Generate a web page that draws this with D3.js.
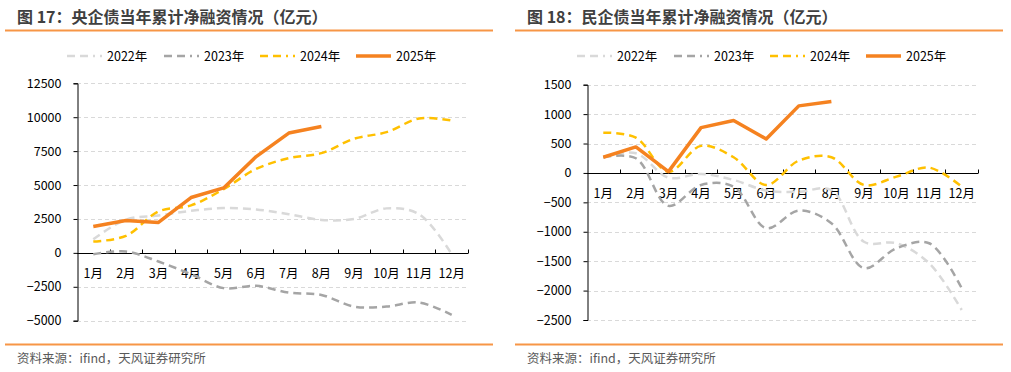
<!DOCTYPE html>
<html>
<head>
<meta charset="utf-8">
<script src="https://cdn.jsdelivr.net/npm/d3@7"></script>
<style>
  body { margin: 0; background: #fff; }
  svg { font-family: "Noto Sans CJK SC", "Noto Sans", sans-serif; }
</style>
</head>
<body>
<div id="chart"></div>
<script>
// categories
const months = ["1月","2月","3月","4月","5月","6月","7月","8月","9月","10月","11月","12月"];
const years = ["2022年","2023年","2024年","2025年"];

// 央企债 (left)
const soe2022 = [1000, 2450, 2750, 3100, 3300, 3200, 2850, 2430, 2500, 3280, 2850, -100];
const soe2023 = [-100, 100, -640, -1570, -2600, -2430, -2930, -3100, -3960, -3960, -3660, -4570];
const soe2024 = [830, 1250, 3050, 3500, 4700, 6190, 6980, 7350, 8410, 8900, 9900, 9760];
const soe2025 = [1940, 2380, 2240, 4080, 4790, 7100, 8830, 9310];
const soeTicks = [-5000, -2500, 0, 2500, 5000, 7500, 10000, 12500];

// 民企债 (right)
const pri2022 = [270, 335, -80, -17, -120, -300, -320, -290, -1170, -1195, -1535, -2330];
const pri2023 = [267, 250, -560, -204, -233, -940, -640, -855, -1620, -1280, -1195, -1960];
const pri2024 = [685, 600, 20, 460, 267, -204, 210, 267, -204, -63, 90, -233];
const pri2025 = [267, 442, 22, 770, 890, 578, 1140, 1213];
const priTicks = [-2500, -2000, -1500, -1000, -500, 0, 500, 1000, 1500];

const styles = [
  {color: "#d9d9d9", width: 2.5, dash: "8,5", curve: d3.curveCatmullRom},
  {color: "#a5a5a5", width: 2.5, dash: "8,5", curve: d3.curveCatmullRom},
  {color: "#ffc000", width: 2.5, dash: "8,5", curve: d3.curveCatmullRom},
  {color: "#f58220", width: 3.5, dash: null, curve: d3.curveLinear}
];

const svg = d3.select("#chart").append("svg")
  .attr("width", 1011)
  .attr("height", 372);

function drawPanel(p) {
  const g = svg.append("g").attr("transform", "translate(" + p.dx + ",0)");

  // title and rules
  g.append("text")
    .attr("x", 17).attr("y", 23)
    .attr("font-size", 16).attr("font-weight", "bold")
    .attr("fill", "#404040")
    .text(p.title);
  g.append("line").attr("x1", 5).attr("x2", 493).attr("y1", 30.5).attr("y2", 30.5)
    .attr("stroke", "#f79646").attr("stroke-width", 2);
  g.append("line").attr("x1", 5).attr("x2", 493).attr("y1", 344.5).attr("y2", 344.5)
    .attr("stroke", "#f79646").attr("stroke-width", 2);
  g.append("text")
    .attr("x", 17).attr("y", 363)
    .attr("font-size", 12.5).attr("fill", "#595959")
    .text("资料来源：ifind，天风证券研究所");

  // legend
  const legX = [67, 164, 260, 356];
  years.forEach(function(y, i) {
    const lg = g.append("g").attr("transform", "translate(" + legX[i] + ",56)");
    lg.append("line").attr("x1", 0).attr("x2", 35).attr("y1", 0).attr("y2", 0)
      .attr("stroke", styles[i].color)
      .attr("stroke-width", i === 3 ? 3.5 : 2.5)
      .attr("stroke-dasharray", styles[i].dash ? "8,5,8,5,2,5" : null);
    lg.append("text").attr("x", 40).attr("y", 4.5)
      .attr("font-size", 12.5).attr("fill", "#000")
      .text(y);
  });

  // scales
  const x = d3.scaleBand().domain(months).range([77, 468]);
  const y = d3.scaleLinear().domain(p.domain).range(p.range);

  // grid
  g.append("g").selectAll("line")
    .data(p.ticks.filter(function(d) { return d !== 0; }))
    .join("line")
    .attr("x1", 77).attr("x2", 468)
    .attr("y1", function(d) { return Math.round(y(d)) + 0.5; })
    .attr("y2", function(d) { return Math.round(y(d)) + 0.5; })
    .attr("stroke", "#d9d9d9").attr("stroke-dasharray", "4,3");

  // y axis
  const yAxis = d3.axisLeft(y).tickValues(p.ticks).tickSize(4).tickPadding(12).tickFormat(d3.format("d"));
  const ya = g.append("g").attr("transform", "translate(77.5,0)").call(yAxis);
  ya.select(".domain").attr("stroke", "#000");
  ya.selectAll("text").attr("font-size", 12.5).attr("fill", "#000")
    .attr("font-family", "'Noto Sans CJK SC', sans-serif");

  // x axis at zero, ticks pointing up
  const y0 = Math.round(y(0)) + 0.5;
  const xa = g.append("g").attr("transform", "translate(0," + y0 + ")");
  xa.append("line").attr("x1", 77).attr("x2", 468).attr("stroke", "#000");
  const edges = months.map(function(m) { return x(m) + x.bandwidth(); });
  xa.selectAll(".tk").data(edges).join("line")
    .attr("class", "tk")
    .attr("x1", function(d) { return Math.round(d) + 0.5; })
    .attr("x2", function(d) { return Math.round(d) + 0.5; })
    .attr("y1", -4).attr("y2", 0)
    .attr("stroke", "#000");

  // lines
  p.series.forEach(function(s, i) {
    const line = d3.line()
      .x(function(d, j) { return x(months[j]) + x.bandwidth() / 2; })
      .y(function(d) { return y(d); })
      .curve(styles[i].curve);
    g.append("path")
      .datum(s)
      .attr("fill", "none")
      .attr("stroke", styles[i].color)
      .attr("stroke-width", styles[i].width)
      .attr("stroke-dasharray", styles[i].dash)
      .attr("stroke-linejoin", "round")
      .attr("d", line);
  });

  // month labels (drawn over the lines like the original)
  xa.selectAll(".ml").data(months).join("text")
    .attr("class", "ml")
    .attr("x", function(d) { return x(d) + x.bandwidth() / 2; })
    .attr("y", 24)
    .attr("text-anchor", "middle")
    .attr("font-size", 12.5).attr("fill", "#000")
    .text(function(d) { return d; });
}

drawPanel({
  dx: 0,
  title: "图 17：央企债当年累计净融资情况（亿元）",
  domain: [-5000, 12500], range: [320.7, 83.3],
  ticks: soeTicks,
  series: [soe2022, soe2023, soe2024, soe2025]
});

drawPanel({
  dx: 510,
  title: "图 18：民企债当年累计净融资情况（亿元）",
  domain: [-2500, 1500], range: [320, 84.7],
  ticks: priTicks,
  series: [pri2022, pri2023, pri2024, pri2025]
});
</script>
</body>
</html>
